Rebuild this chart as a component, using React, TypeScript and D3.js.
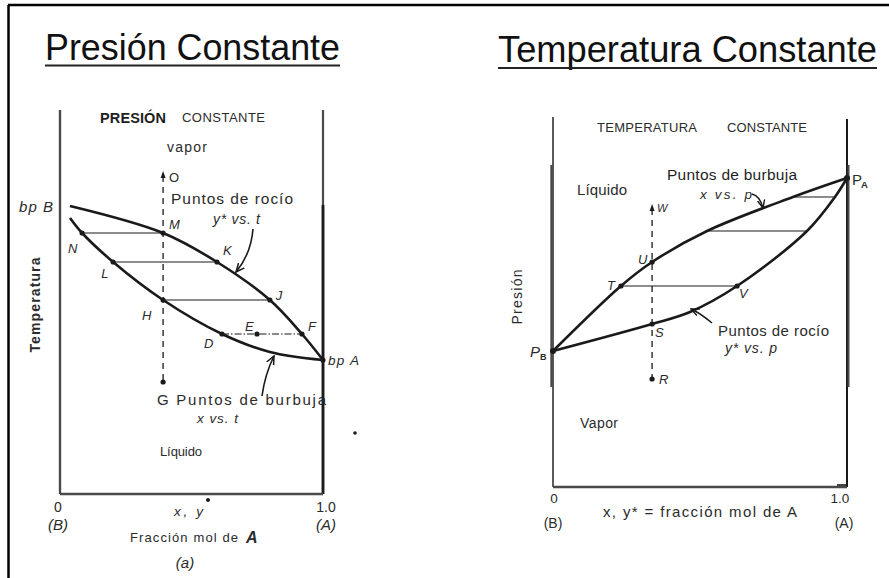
import React from 'react';
import * as d3 from 'd3';

const W = 889;
const H = 578;
const FONT = "'Liberation Sans', Arial, Helvetica, sans-serif";

// --- Presión constante: x (fracción mol de A) vs temperatura (unidades arbitrarias)
const tDew: [number, number][] = [[0.038, 72], [0.392, 65.25], [0.597, 58], [0.798, 48.5], [0.92, 40], [1, 33.5]];
const tBubble: [number, number][] = [[0.038, 69], [0.084, 65.25], [0.202, 58], [0.392, 48.5], [0.616, 40], [0.798, 35.5], [1, 33.5]];
const tTies = [
  { t: 65.25, xl: 0.084, xv: 0.392, dash: false },
  { t: 58, xl: 0.202, xv: 0.597, dash: false },
  { t: 48.5, xl: 0.392, xv: 0.798, dash: false },
  { t: 40, xl: 0.616, xv: 0.92, dash: true },
];
const tPoints = [
  { id: 'N', x: 0.084, y: 65.25 },
  { id: 'M', x: 0.392, y: 65.25 },
  { id: 'L', x: 0.202, y: 58 },
  { id: 'K', x: 0.597, y: 58 },
  { id: 'H', x: 0.392, y: 48.5 },
  { id: 'J', x: 0.798, y: 48.5 },
  { id: 'D', x: 0.616, y: 40 },
  { id: 'E', x: 0.749, y: 40 },
  { id: 'F', x: 0.92, y: 40 },
];
const tVertical = { x: 0.392, top: 79.5, bottom: 28 };

// --- Temperatura constante: x (fracción mol de A) vs presión
const pBubble: [number, number][] = [[0, 34], [0.231, 50.25], [0.337, 56.25], [0.524, 64], [0.816, 72.5], [1, 77.25]];
const pDew: [number, number][] = [[0, 34], [0.337, 40.75], [0.466, 43.75], [0.626, 50.25], [0.864, 64], [0.959, 72.5], [1, 77.25]];
const pTies = [
  { p: 72.5, xl: 0.816, xv: 0.959 },
  { p: 64, xl: 0.524, xv: 0.864 },
  { p: 50.25, xl: 0.231, xv: 0.626 },
];
const pPoints = [
  { id: 'T', x: 0.231, y: 50.25 },
  { id: 'U', x: 0.337, y: 56.25 },
  { id: 'V', x: 0.626, y: 50.25 },
  { id: 'S', x: 0.337, y: 40.75 },
];
const pVertical = { x: 0.337, top: 69.5, bottom: 27 };
const pEnds = [[0, 34], [1, 77.25]];

const xTicks = ['0', '1.0'];
const xTickSub = ['(B)', '(A)'];

const xL = d3.scaleLinear().domain([0, 1]).range([60, 323]);
const yL = d3.scaleLinear().domain([0, 96]).range([494, 110]);
const xR = d3.scaleLinear().domain([0, 1]).range([553, 847]);
const yR = d3.scaleLinear().domain([0, 92.5]).range([487, 117]);

const lineL = d3.line<[number, number]>().x(d => xL(d[0])).y(d => yL(d[1])).curve(d3.curveCatmullRom.alpha(0.5));
const lineR = d3.line<[number, number]>().x(d => xR(d[0])).y(d => yR(d[1])).curve(d3.curveCatmullRom.alpha(0.5));

// offsets of point letters from their dots
const tLabelOff: Record<string, [number, number]> = {
  N: [-14, 20], M: [6, -4], L: [-12, 16], K: [6, -7], H: [-21, 20], J: [6, 0], D: [-18, 14], E: [-12, -3], F: [6, -3],
};
const pLabelOff: Record<string, [number, number]> = {
  T: [-14, 4], U: [-14, 2], V: [2, 12], S: [3, 13],
};

const ink = '#1a1a1a';
const grey = '#4a4a4a';
const txt = '#2b2b2b';

function Txt(props: any) {
  const { x, y, size = 12, w, weight = 'normal', italic = false, anchor = 'start', fill = txt, children, rotate } = props;
  return (
    <text
      x={x}
      y={y}
      fontSize={size}
      fontFamily={FONT}
      fontWeight={weight}
      fontStyle={italic ? 'italic' : 'normal'}
      textAnchor={anchor}
      fill={fill}
      textLength={w}
      lengthAdjust={w ? 'spacing' : undefined}
      transform={rotate ? `rotate(-90 ${x} ${y})` : undefined}
    >
      {children}
    </text>
  );
}

function Dot({ x, y, r = 2.6 }: { x: number; y: number; r?: number }) {
  return <circle cx={x} cy={y} r={r} fill={ink} />;
}

function UpArrow({ x, y }: { x: number; y: number }) {
  return <path d={`M${x},${y - 5} L${x - 2.5},${y + 2} L${x + 2.5},${y + 2} Z`} fill={ink} />;
}

export default function App() {
  return (
    <svg width={W} height={H} style={{ position: 'absolute', left: 0, top: 0, background: '#fff' }}>
      <defs>
        <marker id="ah" viewBox="0 0 10 10" refX="9" refY="5" markerWidth="6" markerHeight="6" orient="auto">
          <path d="M0,1 L9,5 L0,9" fill="none" stroke={ink} strokeWidth={1.6} />
        </marker>
      </defs>

      {/* frame */}
      <line x1={8} y1={5} x2={W} y2={5} stroke="#000" strokeWidth={2.5} />
      <line x1={8.5} y1={5} x2={8.5} y2={H} stroke="#000" strokeWidth={2.5} />

      {/* titles */}
      <text x={45} y={60} fontSize={36} fontFamily={FONT} fill="#111" textLength={295} lengthAdjust="spacingAndGlyphs">Presión Constante</text>
      <line x1={45} y1={65.5} x2={340} y2={65.5} stroke="#222" strokeWidth={2.2} />
      <text x={498} y={62} fontSize={36} fontFamily={FONT} fill="#111" textLength={379} lengthAdjust="spacingAndGlyphs">Temperatura Constante</text>
      <line x1={498} y1={68} x2={877} y2={68} stroke="#222" strokeWidth={2.2} />

      {/* ---------- left panel: constant pressure ---------- */}
      <g>
        <line x1={xL(0)} y1={yL.range()[1]} x2={xL(0)} y2={yL(0)} stroke={grey} strokeWidth={2.4} />
        <line x1={xL(1)} y1={yL.range()[1]} x2={xL(1)} y2={yL(0)} stroke={grey} strokeWidth={2.2} />
        <line x1={xL(1)} y1={205} x2={xL(1)} y2={yL(0)} stroke={ink} strokeWidth={2.8} />
        <line x1={xL(0)} y1={yL(0)} x2={xL(1)} y2={yL(0)} stroke={grey} strokeWidth={2.6} />

        {tTies.map((d, i) => (
          <line key={i} x1={xL(d.xl)} y1={yL(d.t)} x2={xL(d.xv)} y2={yL(d.t)} stroke="#666" strokeWidth={1.3}
            strokeDasharray={d.dash ? '7,2,1.5,2' : undefined} />
        ))}
        <line x1={xL(tVertical.x)} y1={yL(tVertical.top)} x2={xL(tVertical.x)} y2={yL(tVertical.bottom)} stroke={ink} strokeWidth={1.3} strokeDasharray="6,5" />
        <UpArrow x={xL(tVertical.x)} y={yL(tVertical.top)} />
        <Dot x={xL(tVertical.x)} y={yL(tVertical.bottom)} />

        <path d={lineL(tDew) || ''} fill="none" stroke={ink} strokeWidth={2.6} />
        <path d={lineL(tBubble) || ''} fill="none" stroke={ink} strokeWidth={2.6} />
        {tPoints.map(p => (
          <g key={p.id}>
            <Dot x={xL(p.x)} y={yL(p.y)} />
            <Txt x={xL(p.x) + tLabelOff[p.id][0]} y={yL(p.y) + tLabelOff[p.id][1]} size={13} italic>{p.id}</Txt>
          </g>
        ))}
        <Dot x={xL(1)} y={yL(tDew[tDew.length - 1][1])} />

        <Txt x={100} y={123} size={14.5} w={66} weight="bold" fill="#1e1e1e">PRESIÓN</Txt>
        <Txt x={182} y={122} size={13} w={83}>CONSTANTE</Txt>
        <Txt x={167} y={152} size={14} w={40}>vapor</Txt>
        <Txt x={169} y={182} size={13}>O</Txt>
        <Txt x={171} y={204} size={15.5} w={122}>Puntos de rocío</Txt>
        <Txt x={213} y={224} size={14} w={47} italic>y* vs. t</Txt>
        <path d="M253,229 Q251,254 236,272" fill="none" stroke={ink} strokeWidth={1.6} markerEnd="url(#ah)" />
        <Txt x={19} y={212} size={15} w={34} italic>bp B</Txt>
        <Txt x={328} y={365} size={13.5} w={31} italic>bp A</Txt>
        <path d="M262,396 Q265,374 274,356" fill="none" stroke={ink} strokeWidth={1.6} markerEnd="url(#ah)" />
        <Txt x={157} y={405} size={15} w={169}>G  Puntos de burbuja</Txt>
        <Txt x={197} y={423} size={13.5} w={41} italic>x vs. t</Txt>
        <Txt x={160} y={456} size={13} w={42}>Líquido</Txt>
        <Txt x={40} y={305} size={14} w={95} weight="bold" anchor="middle" rotate>Temperatura</Txt>
        <Dot x={355} y={433} r={1.8} />

        {xTicks.map((t, i) => (
          <g key={t}>
            <Txt x={xL(i) + (i ? 3 : -2)} y={512} size={14} anchor="middle">{t}</Txt>
            <Txt x={xL(i) + (i ? 3 : -2)} y={530} size={15} italic anchor="middle">{xTickSub[i]}</Txt>
          </g>
        ))}
        <Txt x={174} y={516} size={13.5} w={29} italic>x, y</Txt>
        <Dot x={208} y={500} r={2} />
        <Txt x={130} y={542} size={13} w={108}>Fracción  mol  de</Txt>
        <Txt x={246} y={543} size={16} weight="bold" italic>A</Txt>
        <Txt x={185} y={568} size={15} italic anchor="middle">(a)</Txt>
      </g>

      {/* ---------- right panel: constant temperature ---------- */}
      <g>
        <line x1={xR(0)} y1={yR.range()[1]} x2={xR(0)} y2={yR(0)} stroke={grey} strokeWidth={1.8} />
        <line x1={xR(0) - 1.5} y1={165} x2={xR(0) - 1.5} y2={387} stroke={grey} strokeWidth={2.4} />
        <line x1={xR(1)} y1={yR.range()[1] + 2} x2={xR(1)} y2={yR(0)} stroke={ink} strokeWidth={2} />
        <line x1={xR(1) + 1.5} y1={165} x2={xR(1) + 1.5} y2={387} stroke={grey} strokeWidth={2} />
        <line x1={xR(0)} y1={yR(0)} x2={xR(1)} y2={yR(0)} stroke={grey} strokeWidth={2.6} />
        <line x1={xR(1) - 10} y1={yR(0) - 2} x2={xR(1)} y2={yR(0) - 2} stroke={ink} strokeWidth={1.6} />

        {pTies.map((d, i) => (
          <line key={i} x1={xR(d.xl)} y1={yR(d.p)} x2={xR(d.xv)} y2={yR(d.p)} stroke="#666" strokeWidth={1.3} />
        ))}
        <line x1={xR(pVertical.x)} y1={yR(pVertical.top)} x2={xR(pVertical.x)} y2={yR(pVertical.bottom)} stroke={ink} strokeWidth={1.3} strokeDasharray="6,5" />
        <UpArrow x={xR(pVertical.x)} y={yR(pVertical.top)} />
        <Dot x={xR(pVertical.x)} y={yR(pVertical.bottom)} />

        <path d={lineR(pBubble) || ''} fill="none" stroke={ink} strokeWidth={2.6} />
        <path d={lineR(pDew) || ''} fill="none" stroke={ink} strokeWidth={2.6} />
        {pPoints.map(p => (
          <g key={p.id}>
            <Dot x={xR(p.x)} y={yR(p.y)} />
            <Txt x={xR(p.x) + pLabelOff[p.id][0]} y={yR(p.y) + pLabelOff[p.id][1]} size={13} italic>{p.id}</Txt>
          </g>
        ))}
        {pEnds.map((d, i) => <Dot key={i} x={xR(d[0])} y={yR(d[1])} r={3} />)}

        <Txt x={597} y={132} size={13} w={100}>TEMPERATURA</Txt>
        <Txt x={727} y={132} size={13} w={80}>CONSTANTE</Txt>
        <Txt x={667} y={180} size={15.5} w={130} fill="#1f1f1f">Puntos de burbuja</Txt>
        <Txt x={700} y={199} size={13.5} w={52} italic>x vs. p</Txt>
        <path d="M752,194 Q760,196 763,208" fill="none" stroke={ink} strokeWidth={1.5} markerEnd="url(#ah)" />
        <Txt x={577} y={195} size={15} w={50}>Líquido</Txt>
        <Txt x={657} y={212} size={11} italic>W</Txt>
        <Txt x={659} y={384} size={13} italic>R</Txt>
        <Txt x={530} y={357} size={15} italic>P</Txt>
        <Txt x={540} y={360} size={9} weight="bold">B</Txt>
        <Txt x={852} y={185} size={15}>P</Txt>
        <Txt x={861} y={188} size={9.5} weight="bold">A</Txt>
        <Txt x={718} y={336} size={15} w={111}>Puntos de rocío</Txt>
        <Txt x={725} y={353} size={14} w={52} italic>y* vs. p</Txt>
        <path d="M712,323 Q700,313 691,309" fill="none" stroke={ink} strokeWidth={1.5} markerEnd="url(#ah)" />
        <Txt x={580} y={428} size={14} w={38}>Vapor</Txt>
        <Txt x={522} y={297} size={14} w={55} anchor="middle" rotate>Presión</Txt>

        {xTicks.map((t, i) => (
          <g key={t}>
            <Txt x={xR(i) + (i ? -7 : 1)} y={503} size={13.5} anchor="middle">{t}</Txt>
            <Txt x={xR(i) + (i ? -3 : 0)} y={528} size={14} anchor="middle">{xTickSub[i]}</Txt>
          </g>
        ))}
        <Txt x={603} y={517} size={15} w={194}>x, y* = fracción mol de A</Txt>
      </g>
    </svg>
  );
}
